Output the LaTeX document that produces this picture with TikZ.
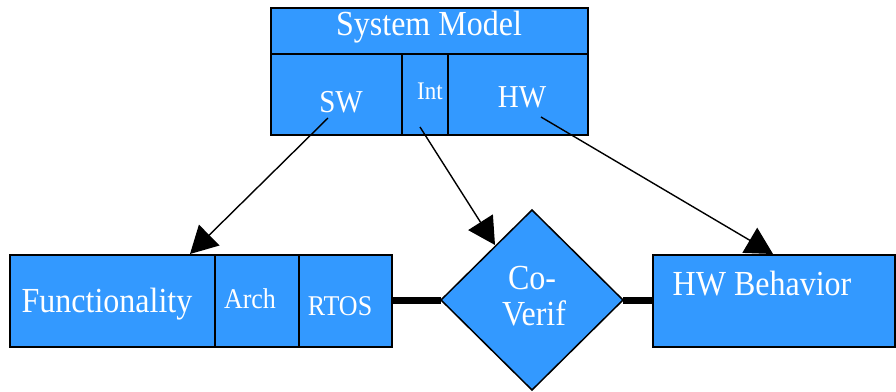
\documentclass[tikz,border=0pt]{standalone}
\usepackage{fontspec}
\usepackage{graphicx}
\setmainfont{Liberation Serif}
\usetikzlibrary{arrows.meta,shapes.geometric}
\definecolor{boxblue}{RGB}{51,153,255}
\newcommand{\tallt}[1]{\scalebox{1}[1.1]{#1}}
\begin{document}
\begin{tikzpicture}[x=1pt,y=-1pt,
  cell/.style={draw=black, line width=1.5pt, fill=boxblue, inner sep=0pt, outer sep=0pt, anchor=north west},
  lab/.style={text=white, anchor=base, inner sep=0pt},
  big/.style={font=\fontsize{32}{36}\selectfont},
  mid/.style={font=\fontsize{29}{33}\selectfont},
  sml/.style={font=\fontsize{26}{30}\selectfont},
  tiny/.style={font=\fontsize{23}{27}\selectfont},
  arr/.style={line width=1.4pt, -{Triangle[length=27pt,width=29pt]}},
  thick link/.style={line width=7pt}]
\useasboundingbox (0,0) rectangle (896,391);
% top model
\node[cell, minimum width=317pt, minimum height=46pt] (hdr) at (271,8) {};
\node[cell, minimum width=131pt, minimum height=81pt] (sw) at (271,54) {};
\node[cell, minimum width=46pt, minimum height=81pt] (int) at (402,54) {};
\node[cell, minimum width=140pt, minimum height=81pt] (hw) at (448,54) {};
\node[lab, big] (thdr) at (429,35) {\tallt{System Model}};
\node[lab, mid] (tsw) at (341,112) {\tallt{SW}};
\node[lab, tiny] (tint) at (430,99) {\tallt{Int}};
\node[lab, mid] (thw) at (522,107) {\tallt{HW}};
% bottom left
\node[cell, minimum width=205pt, minimum height=92pt] (func) at (10,255) {};
\node[cell, minimum width=84pt, minimum height=92pt] (arch) at (215,255) {};
\node[cell, minimum width=93pt, minimum height=92pt] (rtos) at (299,255) {};
\node[lab, big] (tfunc) at (107,312) {\tallt{Functionality}};
\node[lab, sml] (tarch) at (250,308) {\tallt{Arch}};
\node[lab, sml] (trtos) at (340,315) {\tallt{RTOS}};
% diamond
\node[diamond, draw=black, line width=1.5pt, fill=boxblue, inner sep=0pt, outer sep=0pt,
      minimum width=182pt, minimum height=180pt] (dia) at (532,300) {};
\node[lab, big] (tco) at (532,289) {\tallt{Co-}};
\node[lab, big] (tver) at (534,325) {\tallt{Verif}};
% right
\node[cell, minimum width=242pt, minimum height=92pt] (hwb) at (653,255) {};
\node[lab, big] (thwb) at (762,295) {\tallt{HW Behavior}};
% links
\draw[thick link] (dia.west -| rtos.east) -- (dia.west);
\draw[thick link] (dia.east) -- (dia.east -| hwb.west);
% arrows
\coordinate (swS) at (328,118);
\coordinate (swT) at (190,254);
\coordinate (intS) at (420,127);
\coordinate (intT) at (495,245);
\coordinate (hwS) at (541,117);
\coordinate (hwT) at (773,254);
\draw[arr] (swS) -- (swT);
\draw[arr] (intS) -- (intT);
\draw[arr] (hwS) -- (hwT);
\end{tikzpicture}
\end{document}
